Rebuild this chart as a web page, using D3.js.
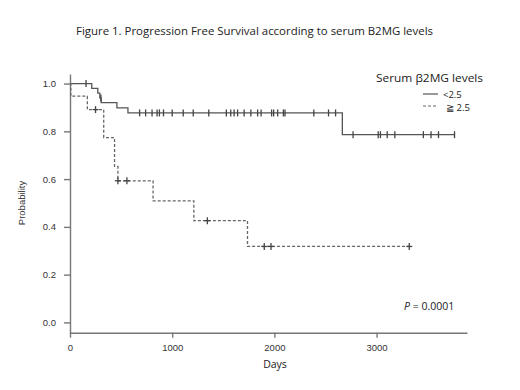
<!DOCTYPE html>
<html>
<head>
<meta charset="utf-8">
<script src="https://cdn.jsdelivr.net/npm/d3@7"></script>
<style>
  body { margin: 0; background: #fff; }
  svg { display: block; }
  .axis text { font-family: "Liberation Sans", Arial, sans-serif; font-size: 9.5px; fill: #333; }
  .axis path, .axis line { stroke: #777; stroke-width: 1.4; }
</style>
</head>
<body>
<div id="chart"></div>
<script>
// Kaplan-Meier steps: time (days) where survival drops, and the new level
const lowTimes = [0, 213, 272, 292, 305, 459, 567, 2665, 3763];
const lowSurv  = [1.0, 0.98, 0.96, 0.94, 0.92, 0.898, 0.877, 0.786, 0.786];
const lowCensor = [157, 302, 681, 740, 803, 852, 875, 915, 1000, 1108, 1206, 1358, 1530, 1573, 1606, 1640,
                   1704, 1770, 1836, 1870, 1973, 1993, 2032, 2088, 2104, 2386, 2530, 2599,
                   2770, 3016, 3038, 3104, 3179, 3458, 3533, 3606, 3763];

const highTimes = [0, 8, 170, 330, 436, 469, 813, 1212, 1737, 3320];
const highSurv  = [1.0, 0.947, 0.891, 0.774, 0.653, 0.593, 0.509, 0.426, 0.318, 0.318];
const highCensor = [250, 469, 557, 1344, 1901, 1967, 3320];

const xTicks = [0, 1000, 2000, 3000];
const yTicks = [0.0, 0.2, 0.4, 0.6, 0.8, 1.0];

const W = 520, H = 390;
const svg = d3.select("#chart").append("svg").attr("width", W).attr("height", H);

const x = d3.scaleLinear().domain([0, 3885]).range([70, 467]);
const y = d3.scaleLinear().domain([-0.043, 1.04]).range([332.7, 74]);

// title
svg.append("text")
    .attr("x", 76).attr("y", 35)
    .attr("textLength", 357).attr("lengthAdjust", "spacingAndGlyphs")
    .style("font-family", "'Open Sans', sans-serif").style("font-size", "10.5px").style("fill", "#222")
    .text("Figure 1. Progression Free Survival according to serum B2MG levels");

// axes
svg.append("g").attr("class", "axis")
    .attr("transform", "translate(70,0)")
    .call(d3.axisLeft(y).tickValues(yTicks).tickFormat(d3.format(".1f")).tickSize(6).tickSizeOuter(0).tickPadding(8));

svg.append("g").attr("class", "axis")
    .attr("transform", "translate(0,332.7)")
    .call(d3.axisBottom(x).tickValues(xTicks).tickFormat(d3.format("d")).tickSize(5).tickSizeOuter(0).tickPadding(7));

svg.append("text")
    .attr("transform", "translate(25,203) rotate(-90)")
    .attr("text-anchor", "middle")
    .style("font-family", "'Liberation Sans Narrow', 'Liberation Sans', sans-serif").style("font-size", "9.5px").style("fill", "#333")
    .text("Probability");

svg.append("text")
    .attr("x", 275).attr("y", 368).attr("text-anchor", "middle")
    .style("font-family", "'Open Sans', sans-serif").style("font-size", "10.5px").style("fill", "#222")
    .text("Days");

// curves
function stepAt(times, surv, t) {
    let s = surv[0];
    times.forEach((tt, i) => { if (tt <= t) s = surv[i]; });
    return s;
}

const line = d3.line().x(d => x(d[0])).y(d => y(d[1])).curve(d3.curveStepAfter);

function drawCurve(times, surv, censor, dash, color) {
    const pts = times.map((t, i) => [t, surv[i]]);
    svg.append("path").datum(pts)
        .attr("d", line)
        .attr("fill", "none")
        .attr("stroke", color)
        .attr("stroke-width", 1.3)
        .attr("stroke-dasharray", dash);

    const g = svg.append("g");
    censor.forEach(c => {
        const cx = x(c), cy = y(stepAt(times, surv, c));
        g.append("line").attr("x1", cx).attr("x2", cx).attr("y1", cy - 3.5).attr("y2", cy + 3.5)
            .attr("stroke", "#444").attr("stroke-width", 1.3);
        if (dash) {
            g.append("line").attr("x1", cx - 3).attr("x2", cx + 3).attr("y1", cy).attr("y2", cy)
                .attr("stroke", "#444").attr("stroke-width", 1.3);
        }
    });
}

drawCurve(lowTimes, lowSurv, lowCensor, null, "#555");
drawCurve(highTimes, highSurv, highCensor, "3,2", "#666");

// legend
const leg = svg.append("g").style("font-family", "'Open Sans', sans-serif").style("fill", "#222");
leg.append("text").attr("x", 376).attr("y", 82).attr("textLength", 107).attr("lengthAdjust", "spacingAndGlyphs")
    .style("font-size", "10.5px").text("Serum \u03B22MG levels");
leg.append("line").attr("x1", 423).attr("x2", 438).attr("y1", 94).attr("y2", 94).attr("stroke", "#555").attr("stroke-width", 1.2);
leg.append("text").attr("x", 443).attr("y", 97.5).style("font-size", "9.5px").text("<2.5");
leg.append("line").attr("x1", 423).attr("x2", 438).attr("y1", 106).attr("y2", 106).attr("stroke", "#666")
    .attr("stroke-width", 1.2).attr("stroke-dasharray", "3,2");
leg.append("text").attr("x", 446).attr("y", 110.5).style("font-size", "9.5px").text("\u2267 2.5");

// p value
const p = svg.append("text").attr("x", 404).attr("y", 310)
    .style("font-family", "'Open Sans', sans-serif").style("font-size", "10.5px").style("fill", "#222");
p.append("tspan").style("font-style", "italic").text("P");
p.append("tspan").text(" = 0.0001");
</script>
</body>
</html>
